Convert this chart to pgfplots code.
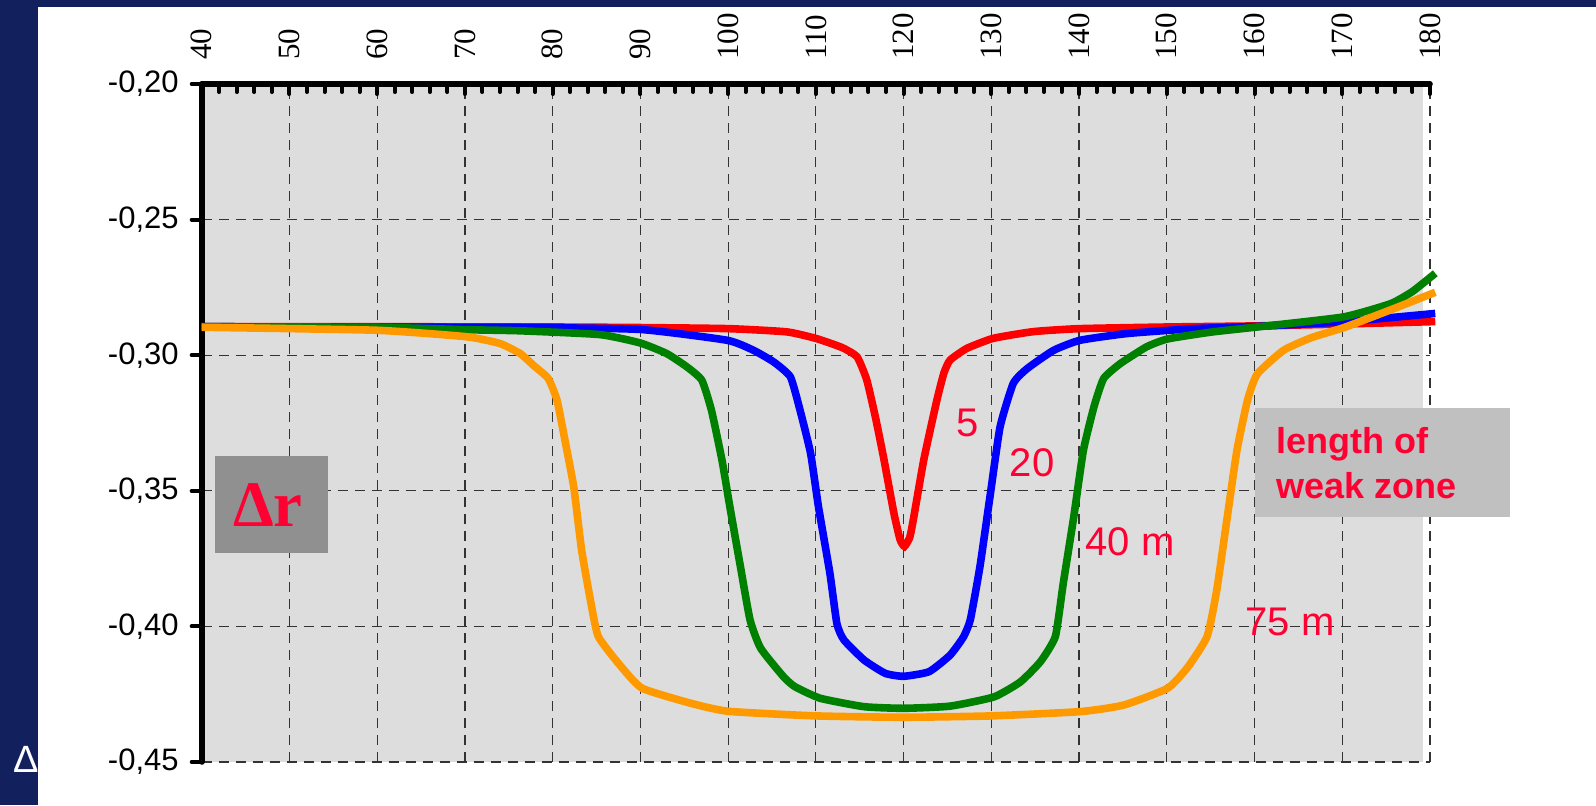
\documentclass[border=0pt]{standalone}
\usepackage{fontspec}
\setmainfont{Liberation Sans}
\newfontfamily\timesfont{Liberation Serif}
\usepackage{pgfplots}
\pgfplotsset{compat=1.18}
\definecolor{navy}{RGB}{18,32,94}
\definecolor{plotbg}{RGB}{221,221,221}
\definecolor{lblred}{RGB}{255,0,51}
\definecolor{corange}{RGB}{255,153,0}
\definecolor{cgreen}{RGB}{0,128,0}
\definecolor{boxlight}{RGB}{192,192,192}
\definecolor{boxdark}{RGB}{144,144,144}

\pgfplotstableread{
x y
40 -0.2895
60 -0.2895
80 -0.2896
90 -0.2898
100 -0.2902
106.7 -0.2914
110.1 -0.2939
113 -0.2972
114.7 -0.3006
115.8 -0.3091
116.8 -0.3230
117.7 -0.3374
118.9 -0.3583
119.6 -0.3680
120.1 -0.3705
120.7 -0.3672
121.1 -0.3608
122.3 -0.3386
123.8 -0.3165
124.6 -0.3065
125.3 -0.3018
127.2 -0.2975
130.2 -0.2938
134.8 -0.2913
140.1 -0.2902
150 -0.2896
160 -0.2892
170 -0.2885
180.6 -0.2876
}\fivem

\pgfplotstableread{
x y
40 -0.2895
76.3 -0.2898
90 -0.2905
99.9 -0.2945
102.9 -0.2982
105.2 -0.3025
107.1 -0.3080
108.2 -0.3203
109.4 -0.3362
110.3 -0.3559
111.6 -0.3804
112.4 -0.3990
113.2 -0.4050
115.5 -0.4124
117.9 -0.4173
120 -0.4184
122.9 -0.4167
125.3 -0.4106
126.8 -0.4040
127.6 -0.3976
128.7 -0.3780
129.9 -0.3509
131.0 -0.3264
132.5 -0.3104
134.1 -0.3049
137.1 -0.2982
140.1 -0.2945
145.5 -0.2920
153.1 -0.2902
160.1 -0.2894
170.1 -0.2877
180.6 -0.2846
}\twentym

\pgfplotstableread{
x y
40 -0.2895
60 -0.2897
70.2 -0.2906
76.3 -0.2910
85.4 -0.2924
90 -0.2955
93 -0.2994
95.3 -0.3043
97.0 -0.3092
98.1 -0.3203
99.3 -0.3387
100.2 -0.3559
101.4 -0.3779
102.5 -0.3976
103.7 -0.4080
106.3 -0.4185
107.6 -0.4222
110.5 -0.4265
115.5 -0.4296
120 -0.4302
125.3 -0.4294
130.3 -0.4260
133.3 -0.4205
135.6 -0.4130
137.3 -0.4037
138.2 -0.3841
139.4 -0.3595
140.5 -0.3350
141.7 -0.3190
142.8 -0.3086
144.7 -0.3031
147.7 -0.2969
150.1 -0.2940
155 -0.2915
160 -0.2897
170.1 -0.2859
175.5 -0.2810
178 -0.2765
180.6 -0.2698
}\fortym

\pgfplotstableread{
x y
40 -0.2897
59.9 -0.2908
70.2 -0.2932
74 -0.2957
76.3 -0.2994
77.8 -0.3037
79.5 -0.3086
80.5 -0.3166
81.4 -0.3313
82.4 -0.3485
83.3 -0.3718
84.3 -0.3902
85.2 -0.4037
87.8 -0.4148
90.2 -0.4228
95.7 -0.4283
100 -0.4313
110 -0.4330
120 -0.4335
130 -0.4330
140.2 -0.4314
145.1 -0.4290
150.1 -0.4228
152.4 -0.4150
154.6 -0.4037
155.7 -0.3865
156.9 -0.3595
158.0 -0.3350
159.2 -0.3166
160.3 -0.3070
163.3 -0.2982
166.5 -0.2935
170.2 -0.2898
175.5 -0.2833
180.6 -0.2768
}\seventyfivem

\begin{document}
\begin{tikzpicture}[x=1pt,y=1pt]
\path[use as bounding box] (0,0) rectangle (798,402.5);
\fill[white] (0,0) rectangle (798,402.5);
\fill[navy] (0,0) rectangle (18.85,402.5);
\fill[navy] (0,399.15) rectangle (798,402.5);
\node[white, font=\fontsize{19}{22}\selectfont] at (13,23) {Δ};
% grey plot area (ends a little short of 180)
\fill[plotbg] (100.85,21.5) rectangle (711.35,360.5);

\begin{axis}[
  at={(100.85pt,21.5pt)}, anchor=south west,
  scale only axis, width=614.15pt, height=339pt,
  xmin=40, xmax=180, ymin=-0.45, ymax=-0.20,
  axis x line=top, axis y line=left,
  axis line style={-, black, line width=2.8pt, line cap=round},
  xtick={40,50,...,180},
  minor x tick num=4,
  ytick={-0.45,-0.4,-0.35,-0.3,-0.25,-0.2},
  xtick align=inside, ytick align=outside,
  major tick length=5pt, minor tick length=4pt,
  tick style={black, line width=2pt, line cap=round},
  xmajorgrids, ymajorgrids,
  major grid style={black!80, line width=0.6pt, dash pattern=on 5pt off 3.5pt},
  /pgf/number format/assume math mode=true,
  x tick label style={yshift=8.5pt, rotate=90, anchor=west, font=\fontsize{15.5}{18}\selectfont\timesfont},
  y tick label style={xshift=-3pt, font=\fontsize{15.5}{18}\selectfont,
    /pgf/number format/.cd, fixed, fixed zerofill, precision=2, use comma},
  clip=false,
]
\addplot[red, line width=3.8pt, smooth, tension=0.3] table {\fivem};
\addplot[blue, line width=3.8pt, smooth, tension=0.3] table {\twentym};
\addplot[cgreen, line width=3.8pt, smooth, tension=0.3] table {\fortym};
\addplot[corange, line width=3.8pt, smooth, tension=0.3] table {\seventyfivem};
\end{axis}

\fill[boxdark] (107.5,126.15) rectangle (163.85,174.5);
\node[anchor=base, lblred, inner sep=0pt, font=\fontsize{32.5}{36}\selectfont\timesfont\bfseries] at (134,139.5) {Δr};

\fill[boxlight] (627.5,144) rectangle (755,198.5);
\node[anchor=base west, lblred, inner sep=0pt, font=\fontsize{18}{21}\selectfont\bfseries] at (638,176) {length of};
\node[anchor=base west, lblred, inner sep=0pt, font=\fontsize{18}{21}\selectfont\bfseries] at (638,153.5) {weak zone};

\begin{scope}[every node/.style={lblred, font=\fontsize{20}{24}\selectfont}]
\node at (484,191) {5};
\node at (516,171) {20};
\node at (565,131.5) {40 m};
\node at (645,91.5) {75 m};
\end{scope}
\end{tikzpicture}
\end{document}
